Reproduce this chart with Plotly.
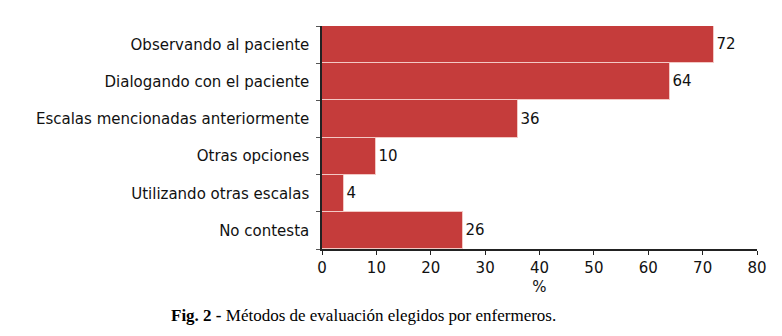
import plotly.graph_objects as go

categories = [
    "Observando al paciente",
    "Dialogando con el paciente",
    "Escalas mencionadas anteriormente",
    "Otras opciones",
    "Utilizando otras escalas",
    "No contesta",
]
values = [72, 64, 36, 10, 4, 26]
x_ticks = [0, 10, 20, 30, 40, 50, 60, 70, 80]

W, H = 782, 336
L, R, T, B = 322, 25, 26, 87

fig = go.Figure(
    go.Bar(
        y=categories,
        x=values,
        orientation="h",
        marker=dict(color="#C53C3B", line=dict(color="#F3C8C4", width=1)),
        text=[str(v) for v in values],
        textposition="outside",
        textfont=dict(family="DejaVu Sans", size=15, color="#111"),
        cliponaxis=False,
    )
)

fig.update_layout(
    width=W,
    height=H,
    margin=dict(l=L, r=R, t=T, b=B),
    paper_bgcolor="white",
    plot_bgcolor="white",
    bargap=0,
    showlegend=False,
    font=dict(family="DejaVu Sans", size=15, color="#111"),
    xaxis=dict(
        range=[0, 80],
        tickvals=x_ticks,
        ticks="outside",
        ticklen=4,
        tickcolor="#222",
        showline=True,
        linecolor="#222",
        linewidth=1.5,
        showgrid=False,
        zeroline=False,
        title=dict(text="%", standoff=6, font=dict(size=15)),
    ),
    yaxis=dict(
        categoryorder="array",
        categoryarray=categories[::-1],
        ticks="outside",
        tickson="boundaries",
        ticklen=4,
        tickcolor="#555",
        showline=True,
        linecolor="#222",
        linewidth=1.5,
        showgrid=False,
        ticklabelstandoff=8,
    ),
    annotations=[
        dict(
            text="<b>Fig. 2 -</b> Métodos de evaluación elegidos por enfermeros.",
            xref="paper",
            yref="paper",
            x=(363 - L) / (W - L - R),
            y=-(315 - (H - B)) / (H - T - B),
            xanchor="center",
            yanchor="middle",
            showarrow=False,
            font=dict(family="Liberation Serif", size=17, color="#000"),
        )
    ],
)

fig.write_html("out.html")
